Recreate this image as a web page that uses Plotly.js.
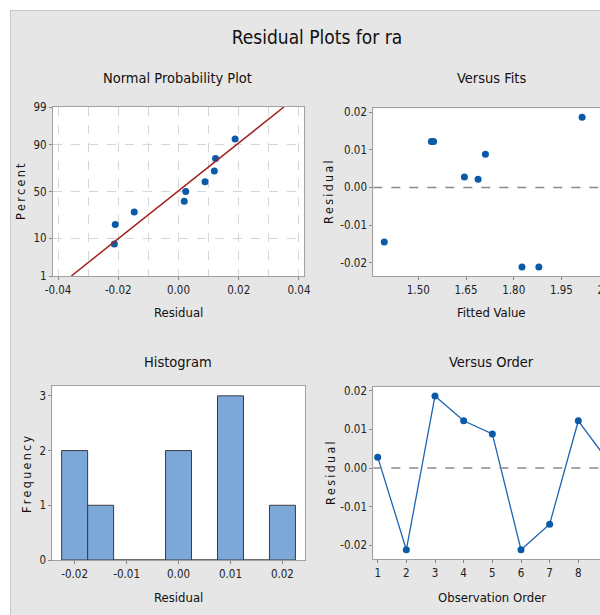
<!DOCTYPE html>
<html><head><meta charset="utf-8">
<script src="https://cdn.plot.ly/plotly-3.0.1.min.js"></script>
<style>
html,body{margin:0;padding:0;background:#fff;overflow:hidden;width:600px;height:615px;}
#wrap{position:absolute;left:10px;top:10px;border-left:1px solid #c8c8c8;border-top:1px solid #c8c8c8;}
#chart{width:630px;height:604px;}
</style></head><body><div id="wrap"><div id="chart"></div></div>
<script>
// ---- data ----
const chartTitle = 'Residual Plots for ra';
const panelTitles = ['Normal Probability Plot', 'Versus Fits', 'Histogram', 'Versus Order'];

const obsOrder = [1, 2, 3, 4, 5, 6, 7, 8, 9];
const residuals = [0.0028, -0.0211, 0.0186, 0.0122, 0.0088, -0.0211, -0.0145, 0.0122, 0.0022];
const fittedValues = [1.645, 1.826, 2.015, 1.541, 1.711, 1.879, 1.393, 1.548, 1.688];

const nppResiduals = [-0.0213, -0.0210, -0.0147, 0.0019, 0.0024, 0.0088, 0.0119, 0.0123, 0.0188];
const nppPercent = [7.4, 18.1, 28.7, 39.4, 50.0, 60.6, 71.3, 81.9, 92.6];
const fitLineX = [-0.0356, 0.0350];
const fitLinePct = [1, 99];
const nppPctTicks = [1, 10, 50, 90, 99];
const nppXTicks = [-0.04, -0.02, 0.00, 0.02, 0.04];

const binCenters = [-0.02, -0.015, -0.01, -0.005, 0, 0.005, 0.01, 0.015, 0.02];
const binCounts = [2, 1, 0, 0, 2, 0, 3, 0, 1];
const histXTicks = [-0.02, -0.01, 0.00, 0.01, 0.02];

const fitsXTicks = [1.50, 1.65, 1.80, 1.95, 2.10];
const residTicks = [-0.02, -0.01, 0.00, 0.01, 0.02];

// ---- helpers ----
function normInv(p) {
  // Acklam's rational approximation of the inverse normal CDF (probability axis transform)
  const a=[-3.969683028665376e+01,2.209460984245205e+02,-2.759285104469687e+02,1.383577518672690e+02,-3.066479806614716e+01,2.506628277459239e+00];
  const b=[-5.447609879822406e+01,1.615858368580409e+02,-1.556989798598866e+02,6.680131188771972e+01,-1.328068155288572e+01];
  const c=[-7.784894002430293e-03,-3.223964580411365e-01,-2.400758277161838e+00,-2.549732539343734e+00,4.374664141464968e+00,2.938163982698783e+00];
  const d=[7.784695709041462e-03,3.224671290700398e-01,2.445134137142996e+00,3.754408661907416e+00];
  const pl=0.02425, ph=1-pl; let q,r;
  if(p<pl){q=Math.sqrt(-2*Math.log(p));return (((((c[0]*q+c[1])*q+c[2])*q+c[3])*q+c[4])*q+c[5])/((((d[0]*q+d[1])*q+d[2])*q+d[3])*q+1);}
  if(p<=ph){q=p-0.5;r=q*q;return (((((a[0]*r+a[1])*r+a[2])*r+a[3])*r+a[4])*r+a[5])*q/(((((b[0]*r+b[1])*r+b[2])*r+b[3])*r+b[4])*r+1);}
  q=Math.sqrt(-2*Math.log(1-p));return -(((((c[0]*q+c[1])*q+c[2])*q+c[3])*q+c[4])*q+c[5])/((((d[0]*q+d[1])*q+d[2])*q+d[3])*q+1);
}
const zOf = pct => normInv(pct/100);
const spaced = s => s.split('').join('\u2009');

const W = 630, H = 604, OX = 11, OY = 11;
const px = x => (x - OX) / W;
const py = y => 1 - (y - OY) / H;

const FONT = '"DejaVu Sans Condensed", "Liberation Sans Narrow", sans-serif';
const BLUE = '#0b5aa8';

const axisBase = {
  showline: true, mirror: true, linecolor: '#a0a0a0', linewidth: 1,
  ticks: 'outside', ticklen: 3, tickcolor: '#888', zeroline: false,
  showgrid: false, tickfont: {family: FONT, size: 11.5, color: '#222'}
};
const ax = o => Object.assign({}, axisBase, o);

const traces = [
  {x: nppResiduals, y: nppPercent.map(zOf), xaxis: 'x', yaxis: 'y', type: 'scatter', mode: 'markers',
   marker: {color: BLUE, size: 7}},
  {x: fitLineX, y: fitLinePct.map(zOf), xaxis: 'x', yaxis: 'y', type: 'scatter', mode: 'lines',
   line: {color: '#a3201f', width: 1.5}},
  {x: fittedValues, y: residuals, xaxis: 'x2', yaxis: 'y2', type: 'scatter', mode: 'markers',
   marker: {color: BLUE, size: 7}},
  {x: binCenters, y: binCounts, xaxis: 'x3', yaxis: 'y3', type: 'bar', width: 0.005,
   marker: {color: '#7ba7d9', line: {color: '#3b3b3b', width: 1}}},
  {x: obsOrder, y: residuals, xaxis: 'x4', yaxis: 'y4', type: 'scatter', mode: 'lines+markers',
   line: {color: '#1f63b3', width: 1.3}, marker: {color: BLUE, size: 7}}
];

const ann = (text, x, y, size, extra) => Object.assign({
  text: text, xref: 'paper', yref: 'paper', x: px(x), y: py(y), xanchor: 'center', yanchor: 'middle',
  showarrow: false, font: {family: FONT, size: size, color: '#111'}
}, extra || {});

const layout = {
  width: W, height: H, margin: {l: 0, r: 0, t: 0, b: 0},
  paper_bgcolor: '#e6e6e6', plot_bgcolor: '#ffffff', showlegend: false, bargap: 0,
  title: {text: chartTitle, xref: 'container', yref: 'container', x: px(317), y: py(37),
          xanchor: 'center', yanchor: 'middle', font: {family: FONT, size: 19, color: '#111'}},
  xaxis: ax({domain: [px(53), px(304)], anchor: 'y', range: [-0.04167, 0.04167],
             tickvals: nppXTicks, ticktext: nppXTicks.map(v => v.toFixed(2)),
             showgrid: true, gridcolor: '#d6d6d6', griddash: 'dash',
             minor: {dtick: 0.01, tick0: 0, showgrid: true, gridcolor: '#d6d6d6', griddash: 'dash'}}),
  yaxis: ax({domain: [py(276), py(107)], anchor: 'x', range: [zOf(1), zOf(99)],
             tickvals: nppPctTicks.map(zOf), ticktext: nppPctTicks.map(String),
             showgrid: true, gridcolor: '#d6d6d6', griddash: 'dash'}),
  xaxis2: ax({domain: [px(373.3), px(612)], anchor: 'y2', range: [1.3585, 2.109],
              tickvals: fitsXTicks, ticktext: fitsXTicks.map(v => v.toFixed(2))}),
  yaxis2: ax({domain: [py(276), py(108.3)], anchor: 'x2', range: [-0.0235, 0.0210],
              tickvals: residTicks, ticktext: residTicks.map(v => v.toFixed(2))}),
  xaxis3: ax({domain: [px(52.3), px(305.3)], anchor: 'y3', range: [-0.0243, 0.0244],
              tickvals: histXTicks, ticktext: histXTicks.map(v => v.toFixed(2))}),
  yaxis3: ax({domain: [py(560), py(386)], anchor: 'x3', range: [0, 3.18], dtick: 1, tick0: 0}),
  xaxis4: ax({domain: [px(373.3), px(612)], anchor: 'y4', range: [0.847, 9.175], dtick: 1, tick0: 1}),
  yaxis4: ax({domain: [py(559), py(386.7)], anchor: 'x4', range: [-0.0235, 0.0210],
              tickvals: residTicks, ticktext: residTicks.map(v => v.toFixed(2))}),
  shapes: [
    {type: 'line', xref: 'x2 domain', x0: 0, x1: 1, yref: 'y2', y0: 0, y1: 0,
     line: {color: '#8a8a8a', width: 1.5, dash: 'dash'}},
    {type: 'line', xref: 'x4 domain', x0: 0, x1: 1, yref: 'y4', y0: 0, y1: 0,
     line: {color: '#8a8a8a', width: 1.5, dash: 'dash'}}
  ],
  annotations: [
    ann(panelTitles[0], 177.5, 78, 14.5),
    ann(panelTitles[1], 492, 78, 14.5),
    ann(panelTitles[2], 178, 362, 14.5),
    ann(panelTitles[3], 492, 362, 14.5),
    ann('Residual', 178, 312, 13),
    ann('Fitted Value', 492, 312, 13),
    ann('Residual', 178, 597, 13),
    ann('Observation Order', 492, 597, 13),
    ann(spaced('Percent'), 21, 192, 12.5, {textangle: -90}),
    ann(spaced('Residual'), 329, 192, 12.5, {textangle: -90}),
    ann(spaced('Frequency'), 26, 475, 12.5, {textangle: -90}),
    ann(spaced('Residual'), 330, 473, 12.5, {textangle: -90})
  ]
};

Plotly.newPlot('chart', traces, layout, {displayModeBar: false, staticPlot: true});
</script></body></html>
